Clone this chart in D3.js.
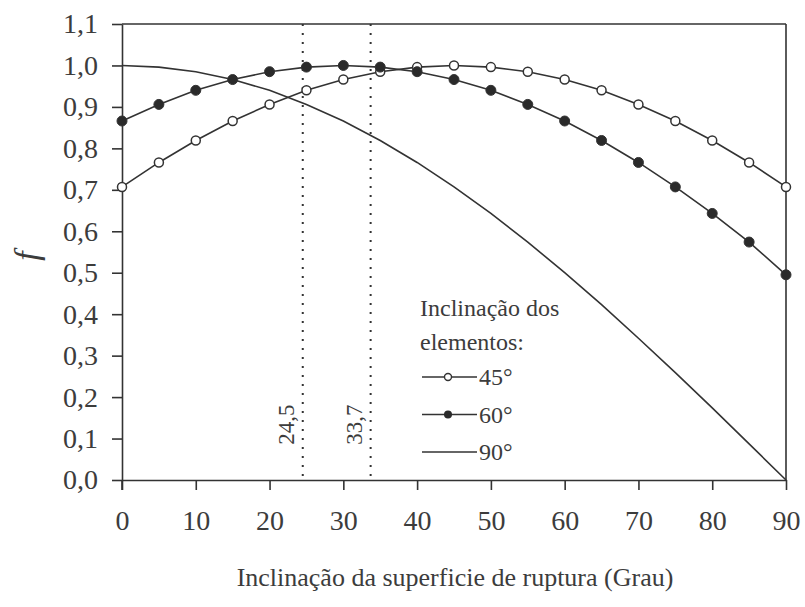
<!DOCTYPE html>
<meta charset="utf-8">
<script src="https://d3js.org/d3.v7.min.js"></script>
<body style="margin:0">
<svg width="805" height="607" font-family="Liberation Serif"></svg>
<script>
  // angle of the rupture surface (deg)
  const xs = [0, 5, 10, 15, 20, 25, 30, 35, 40, 45, 50, 55, 60, 65, 70, 75, 80, 85, 90];
  // f for element inclination 45
  const f45 = [0.707, 0.766, 0.819, 0.866, 0.906, 0.94, 0.966, 0.985, 0.996, 1.0, 0.996, 0.985, 0.966, 0.94, 0.906, 0.866, 0.819, 0.766, 0.707];
  // f for 60
  const f60 = [0.866, 0.906, 0.94, 0.966, 0.985, 0.996, 1.0, 0.996, 0.985, 0.966, 0.94, 0.906, 0.866, 0.819, 0.766, 0.707, 0.643, 0.574, 0.495];
  // f for 90 (no markers)
  const f90 = [1.0, 0.996, 0.985, 0.966, 0.94, 0.906, 0.866, 0.819, 0.766, 0.707, 0.643, 0.574, 0.5, 0.423, 0.342, 0.259, 0.174, 0.087, 0.0];
  const refLines = [24.5, 33.7];
  const xTicks = [0, 10, 20, 30, 40, 50, 60, 70, 80, 90];
  const yTicks = [0, 0.1, 0.2, 0.3, 0.4, 0.5, 0.6, 0.7, 0.8, 0.9, 1.0, 1.1];
  const legendLabels = ['45°', '60°', '90°'];

  const FONT = 'Liberation Serif';
  const TXT = '#3c3c3c';
  const svg = d3.select('svg');
  const margin = {top: 24, left: 122, right: 19, bottom: 127};
  const width = 805 - margin.left - margin.right;
  const height = 607 - margin.top - margin.bottom;
  const ink = '#333';

  const x = d3.scaleLinear().domain([0, 90]).range([0, width]);
  const y = d3.scaleLinear().domain([0, 1.1]).range([height, 0]);
  const comma = d => d3.format('.1f')(d).replace('.', ',');

  const g = svg.append('g').attr('transform', `translate(${margin.left},${margin.top})`);

  // frame top/right
  g.append('line').attr('x1', 0).attr('x2', width).attr('y1', 0).attr('y2', 0)
    .attr('stroke', ink).attr('stroke-width', 1.6);
  g.append('line').attr('x1', width).attr('x2', width).attr('y1', 0).attr('y2', height)
    .attr('stroke', ink).attr('stroke-width', 1.6);

  const yAxis = g.append('g')
    .call(d3.axisLeft(y).tickValues(yTicks).tickFormat(comma).tickSize(10).tickSizeOuter(0).tickPadding(14));
  const xAxis = g.append('g').attr('transform', `translate(0,${height})`)
    .call(d3.axisBottom(x).tickValues(xTicks).tickSize(10).tickSizeOuter(0).tickPadding(20));
  [xAxis, yAxis].forEach(a => {
    a.attr('font-family', FONT);
    a.select('.domain').attr('stroke', ink).attr('stroke-width', 1.6);
    a.selectAll('.tick line').attr('stroke', ink).attr('stroke-width', 1.6);
    a.selectAll('text').attr('font-size', 28).attr('fill', TXT)
      .attr('font-family', FONT).style('font-family', FONT);
  });
  // 0,0 tick down along y axis
  g.append('line').attr('x1', 0).attr('x2', 0).attr('y1', height).attr('y2', height + 10)
    .attr('stroke', ink).attr('stroke-width', 1.6);

  // dotted reference lines
  refLines.forEach(v => {
    g.append('line').attr('x1', x(v)).attr('x2', x(v)).attr('y1', 0).attr('y2', height)
      .attr('stroke', ink).attr('stroke-width', 2).attr('stroke-dasharray', '2,7');
    g.append('text')
      .attr('transform', `translate(${x(v) - 9},${y(0.085)}) rotate(-90)`)
      .attr('font-family', FONT).style('font-family', FONT).attr('fill', TXT)
      .attr('font-size', 23).text(String(v).replace('.', ','));
  });

  const line = d3.line().x((d, i) => x(xs[i])).y(d => y(d));
  [f90, f45, f60].forEach(s => {
    g.append('path').datum(s).attr('d', line).attr('fill', 'none')
      .attr('stroke', ink).attr('stroke-width', 1.6);
  });
  g.selectAll('.m45').data(f45).join('circle').attr('class', 'm45')
    .attr('cx', (d, i) => x(xs[i])).attr('cy', d => y(d)).attr('r', 4.5)
    .attr('fill', '#fff').attr('stroke', ink).attr('stroke-width', 1.5);
  g.selectAll('.m60').data(f60).join('circle').attr('class', 'm60')
    .attr('cx', (d, i) => x(xs[i])).attr('cy', d => y(d)).attr('r', 5)
    .attr('fill', '#2a2a2a').attr('stroke', ink).attr('stroke-width', 1);

  // legend
  const lg = svg.append('g').attr('transform', 'translate(420,0)');
  const addText = (sel, px, py, size, s) => sel.append('text').attr('x', px).attr('y', py)
    .attr('font-size', size).attr('fill', TXT)
    .attr('font-family', FONT).style('font-family', FONT).text(s);
  addText(lg, 0, 316, 24, 'Inclinação dos');
  addText(lg, 0, 350, 24, 'elementos:');
  legendLabels.forEach((lab, i) => {
    const yy = 377 + i * 37.5;
    lg.append('line').attr('x1', 2).attr('x2', 57).attr('y1', yy).attr('y2', yy)
      .attr('stroke', ink).attr('stroke-width', 1.6);
    if (i === 0) lg.append('circle').attr('cx', 28).attr('cy', yy).attr('r', 3.5)
      .attr('fill', '#fff').attr('stroke', ink).attr('stroke-width', 1.4);
    if (i === 1) lg.append('circle').attr('cx', 28).attr('cy', yy).attr('r', 4)
      .attr('fill', '#2a2a2a');
    addText(lg, 59, yy + 8, 24, lab);
  });

  // axis titles
  addText(svg, 455, 586, 26, 'Inclinação da superficie de ruptura (Grau)')
    .attr('text-anchor', 'middle');
  addText(svg, 0, 0, 34, 'f').attr('x', null).attr('y', null)
    .attr('transform', 'translate(38,256) rotate(-90)')
    .attr('text-anchor', 'middle').attr('font-style', 'italic');
</script>
</body>
